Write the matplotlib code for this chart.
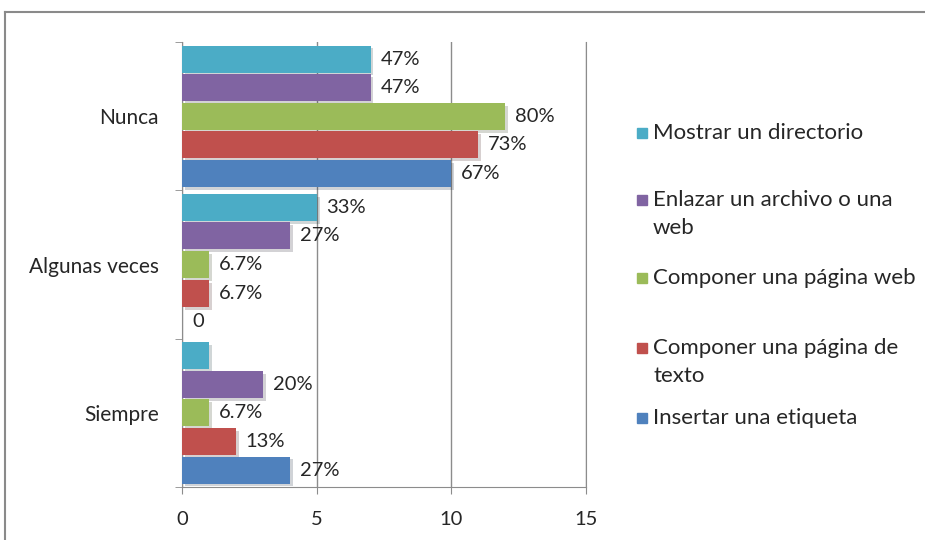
import numpy as np
import matplotlib
matplotlib.use("Agg")
import matplotlib.pyplot as plt
import matplotlib.patheffects as pe
from matplotlib.lines import Line2D
from matplotlib.patches import Rectangle

# --- data (counts out of 15 respondents) ---
categories = ["Nunca", "Algunas veces", "Siempre"]
series_names = ["Mostrar un directorio", "Enlazar un archivo o una\nweb",
                "Componer una página web", "Componer una página de\ntexto",
                "Insertar una etiqueta"]
colors = ["#4BACC6", "#8064A2", "#9BBB59", "#C0504D", "#4F81BD"]

mostrar = [7, 5, 1]
enlazar = [7, 4, 3]
comp_web = [12, 1, 1]
comp_texto = [11, 1, 2]
insertar = [10, 0, 4]
values = [mostrar, enlazar, comp_web, comp_texto, insertar]

lbl_mostrar = ["47%", "33%", ""]
lbl_enlazar = ["47%", "27%", "20%"]
lbl_comp_web = ["80%", "6.7%", "6.7%"]
lbl_comp_texto = ["73%", "6.7%", "13%"]
lbl_insertar = ["67%", "0", "27%"]
labels = [lbl_mostrar, lbl_enlazar, lbl_comp_web, lbl_comp_texto, lbl_insertar]

plt.rcParams['font.family'] = ['Lato', 'DejaVu Sans']
FS = 14.5
TXT = "#262626"
GRID = "#8c8c8c"

fig = plt.figure(figsize=(9.25, 5.4), dpi=100)
ax = fig.add_axes([0.197, 0.098, 0.4365, 0.824])

centers = np.array([2, 1, 0])  # Nunca at top
step = 0.193
height = 0.182
shadow = [pe.SimplePatchShadow(offset=(2, -2), alpha=0.2), pe.Normal()]

for i, (vals, lbls, col) in enumerate(zip(values, labels, colors)):
    y = centers + (2 - i) * step
    bars = ax.barh(y, vals, height=height, color=col, zorder=3)
    for b in bars:
        b.set_path_effects(shadow)
    for yy, v, t in zip(y, vals, lbls):
        if t:
            ax.annotate(t, (v, yy), xytext=(7, 0), textcoords="offset points",
                        ha="left", va="center", fontsize=FS, color=TXT, zorder=4)

ax.set_xlim(0, 15)
ax.set_ylim(-0.5, 2.5)
ax.set_xticks([0, 5, 10, 15])
ax.tick_params(axis="x", labelsize=FS, colors=GRID, labelcolor=TXT,
               length=5, pad=12)
ax.set_yticks(centers)
ax.set_yticklabels(categories)
ax.set_yticks([-0.5, 0.5, 1.5, 2.5], minor=True)
ax.tick_params(axis="y", which="major", length=0, labelsize=15, labelcolor=TXT, pad=17)
ax.tick_params(axis="y", which="minor", length=5, color=GRID)
ax.grid(axis="x", color=GRID, linewidth=1, zorder=0)
ax.spines["top"].set_visible(False)
for s in ["left", "bottom", "right"]:
    ax.spines[s].set_color(GRID)

# legend on the right
LFS = 16
leg_y = [125, 192, 270, 340, 410]
for name, col, yy in zip(series_names, colors, leg_y):
    fy = 1 - yy / 540
    fig.patches.append(Rectangle((637 / 925, fy - 0.024), 10 / 925, 10 / 540,
                                 transform=fig.transFigure, color=col))
    fig.text(653 / 925, fy + 0.004, name, fontsize=LFS, color=TXT, va="top", ha="left",
             linespacing=1.5)

# outer frame
fig.add_artist(Line2D([5 / 925, 1], [1 - 12 / 540] * 2, color="#8a8a8a", lw=1.5,
                      transform=fig.transFigure))
fig.add_artist(Line2D([5 / 925] * 2, [0, 1 - 12 / 540], color="#8a8a8a", lw=1.5,
                      transform=fig.transFigure))

fig.savefig("out.png", dpi=100)
